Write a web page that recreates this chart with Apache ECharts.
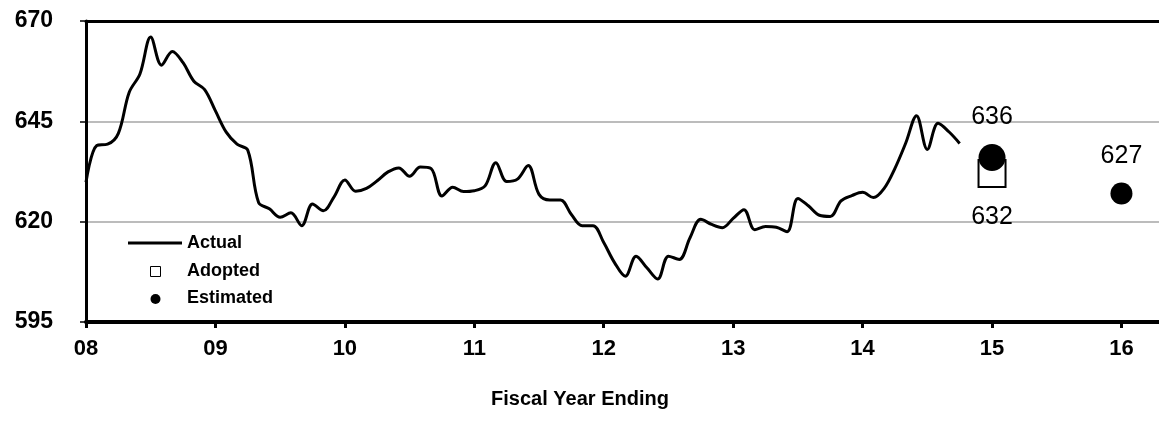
<!DOCTYPE html>
<html>
<head>
<meta charset="utf-8">
<script src="https://cdn.jsdelivr.net/npm/echarts@6/dist/echarts.min.js"></script>
<style>
html,body{margin:0;padding:0;background:#fff;}
#chart{width:1159px;height:437px;}
</style>
</head>
<body>
<div id="chart"></div>
<script>
// Monthly actual values, starting at FY08 tick
const actualStartYear = 8;
const actualValues = [
  629.8, 639.0, 639.3, 642.0, 652.2, 656.8, 666.0, 659.0, 662.4, 659.6,
  655.0, 652.9, 647.6, 642.3, 639.3, 637.8, 624.8, 623.2, 621.1, 622.2,
  619.0, 624.4, 622.7, 626.2, 630.4, 627.6, 628.3, 630.2, 632.4, 633.4,
  631.3, 633.6, 633.2, 626.4, 628.6, 627.5, 627.7, 628.9, 634.7, 630.0,
  630.6, 634.0, 626.8, 625.4, 625.4, 621.8, 619.0, 619.0, 614.8, 609.8,
  606.4, 611.4, 608.5, 605.7, 611.4, 610.6, 616.0, 620.6, 619.3, 618.5,
  620.8, 623.0, 618.0, 618.8, 618.6, 617.5, 625.8, 623.9, 621.6, 621.3,
  625.2, 626.5, 627.3, 626.0, 628.3, 633.3, 639.6, 646.4, 638.0, 644.5,
  642.4, 639.5
];
const adoptedYears = [15];
const adoptedValues = [632];
const estimatedYears = [15, 16];
const estimatedValues = [636, 627];
const xTickYears = [8, 9, 10, 11, 12, 13, 14, 15, 16];
const yTicks = [595, 620, 645, 670];
const xAxisTitle = 'Fiscal Year Ending';
const legendLabels = ['Actual', 'Adopted', 'Estimated'];

const FONT = "'Liberation Sans', Arial, sans-serif";
const actualData = actualValues.map((v, i) => [actualStartYear + i / 12, v]);
const adoptedData = adoptedValues.map((v, i) => [adoptedYears[i], v]);
const estimatedData = estimatedValues.map((v, i) => [estimatedYears[i], v]);

const chart = echarts.init(document.getElementById('chart'), null, {renderer: 'canvas'});
const option = {
  backgroundColor: '#fff',
  animation: false,
  grid: {left: 86, right: 0, top: 21, bottom: 115, containLabel: false},
  xAxis: [{
    type: 'value',
    min: xTickYears[0],
    max: 16.29,
    interval: 1,
    axisLine: {show: true, lineStyle: {color: '#000', width: 4}},
    axisTick: {show: true, length: 6, lineStyle: {color: '#000', width: 3}},
    splitLine: {show: false},
    axisLabel: {
      showMaxLabel: false,
      margin: 16,
      color: '#000',
      fontFamily: FONT,
      fontWeight: 'bold',
      fontSize: 22,
      formatter: v => (xTickYears.indexOf(v) >= 0 ? String(v).padStart(2, '0') : '')
    }
  }, {
    type: 'value',
    position: 'top',
    min: xTickYears[0],
    max: 16.29,
    axisLine: {show: true, lineStyle: {color: '#000', width: 3}},
    axisTick: {show: false},
    axisLabel: {show: false},
    splitLine: {show: false}
  }],
  yAxis: {
    type: 'value',
    min: yTicks[0],
    max: yTicks[yTicks.length - 1],
    interval: 25,
    axisLine: {show: true, lineStyle: {color: '#000', width: 3}},
    axisTick: {show: true, length: 6, lineStyle: {color: '#000', width: 1.5}},
    splitLine: {show: true, lineStyle: {color: '#a6a6a6', width: 1.5}},
    axisLabel: {
      margin: 33,
      color: '#000',
      fontFamily: FONT,
      fontWeight: 'bold',
      fontSize: 23
    }
  },
  series: [{
    name: legendLabels[0],
    type: 'line',
    data: actualData,
    smooth: 0.35,
    showSymbol: false,
    lineStyle: {color: '#000', width: 3},
    z: 3
  }, {
    name: legendLabels[1],
    type: 'scatter',
    data: adoptedData,
    symbol: 'rect',
    symbolSize: 27,
    itemStyle: {color: '#fff', borderColor: '#000', borderWidth: 2, opacity: 1},
    label: {
      show: true, position: 'bottom', distance: 17,
      color: '#000', fontFamily: FONT, fontSize: 25,
      formatter: p => String(p.value[1])
    },
    z: 4
  }, {
    name: legendLabels[2],
    type: 'scatter',
    data: estimatedData,
    symbol: 'circle',
    symbolSize: v => (v[0] === 15 ? 27 : 22),
    itemStyle: {color: '#000', opacity: 1},
    label: {
      show: true, position: 'top', distance: 14,
      color: '#000', fontFamily: FONT, fontSize: 25,
      formatter: p => String(p.value[1])
    },
    z: 5
  }],
  graphic: [
    {type: 'line', shape: {x1: 128, y1: 243, x2: 182, y2: 243}, style: {stroke: '#000', lineWidth: 3}},
    {type: 'text', x: 187, y: 243, style: {text: legendLabels[0], font: 'bold 18px ' + FONT, fill: '#000', verticalAlign: 'middle'}},
    {type: 'rect', shape: {x: 150.5, y: 266.5, width: 10, height: 10}, style: {fill: '#fff', stroke: '#000', lineWidth: 1}},
    {type: 'text', x: 187, y: 271, style: {text: legendLabels[1], font: 'bold 18px ' + FONT, fill: '#000', verticalAlign: 'middle'}},
    {type: 'circle', shape: {cx: 155.5, cy: 299, r: 5}, style: {fill: '#000'}},
    {type: 'text', x: 187, y: 298, style: {text: legendLabels[2], font: 'bold 18px ' + FONT, fill: '#000', verticalAlign: 'middle'}},
    {type: 'text', x: 580, y: 399, style: {text: xAxisTitle, font: 'bold 20px ' + FONT, fill: '#000', align: 'center', verticalAlign: 'middle'}}
  ]
};
chart.setOption(option);
</script>
</body>
</html>
